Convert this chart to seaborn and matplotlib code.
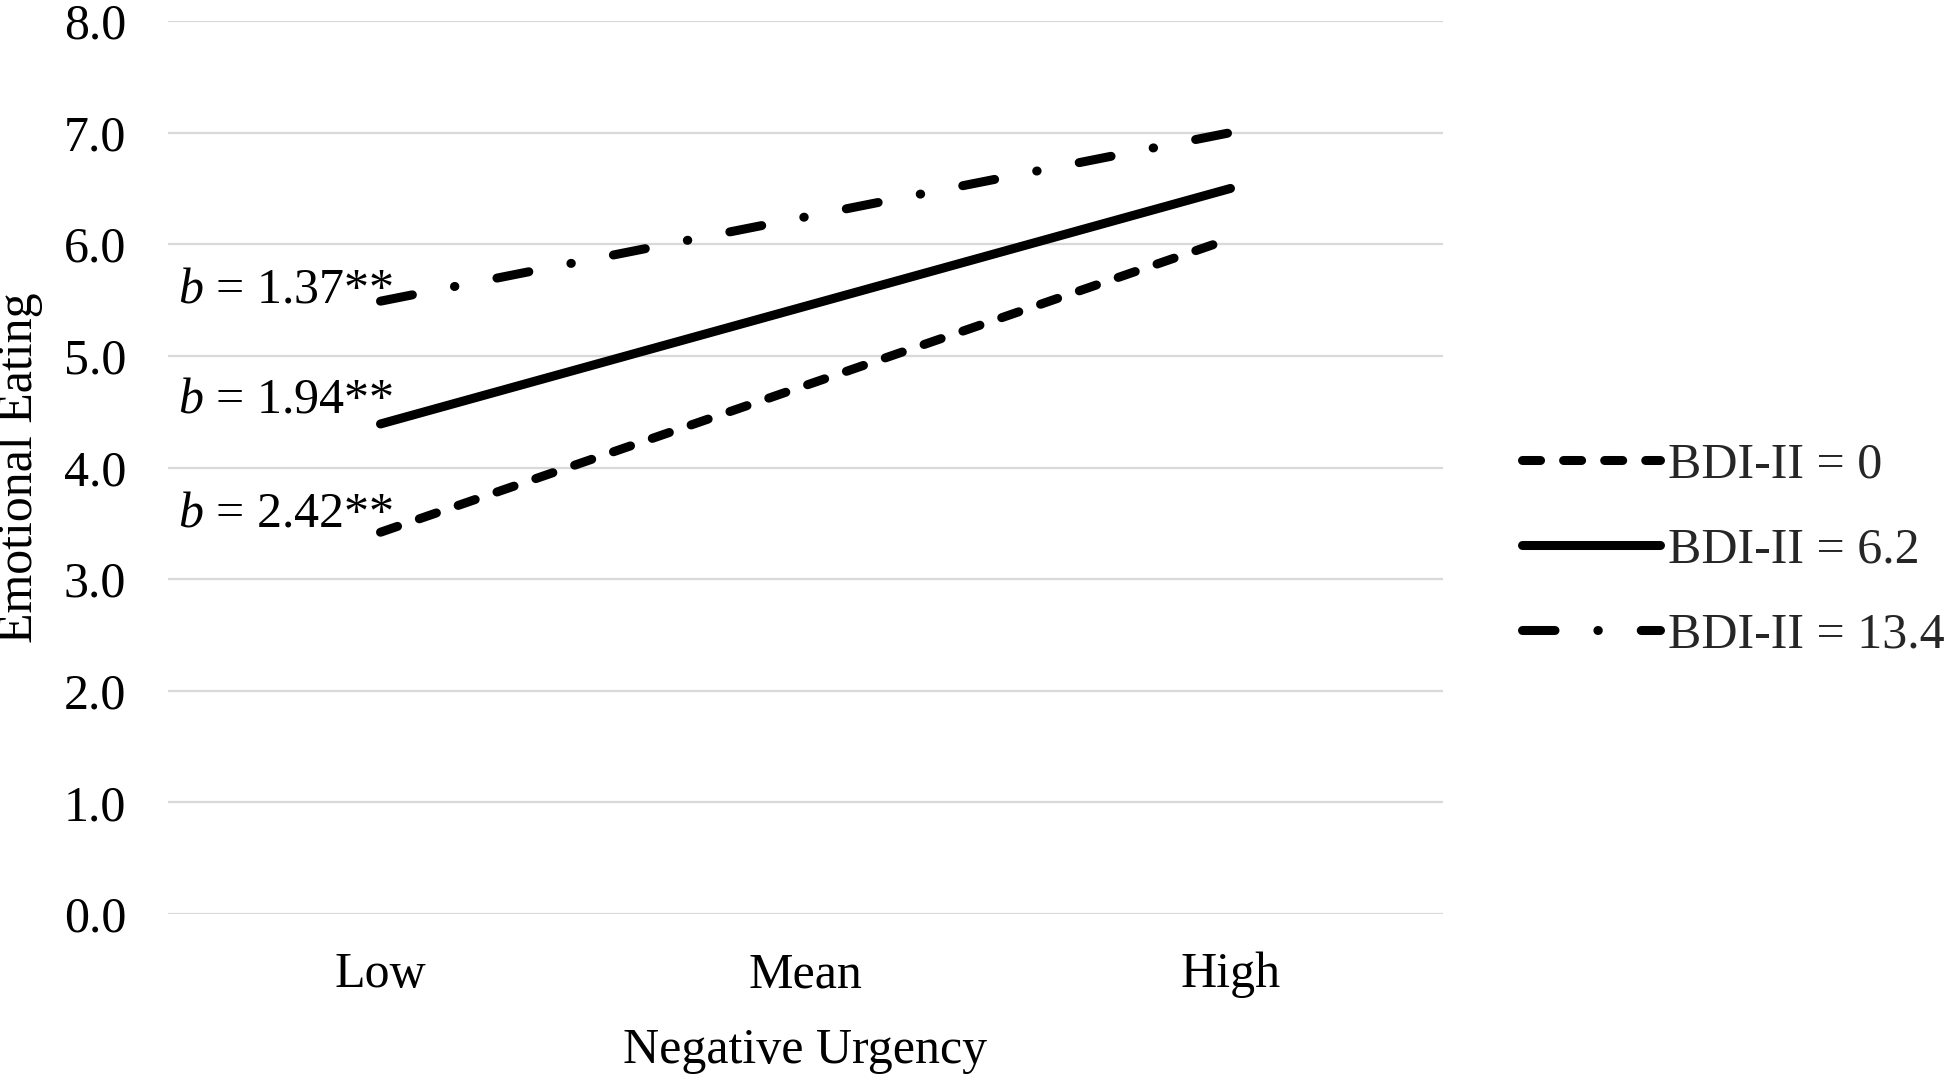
import matplotlib
matplotlib.use("Agg")
import matplotlib.pyplot as plt
import seaborn as sns
import pandas as pd

# ---- data ----
categories = ["Low", "Mean", "High"]
groups = ["BDI-II = 0", "BDI-II = 6.2", "BDI-II = 13.4"]
bdi_0 = [3.42, 4.735, 6.05]
bdi_62 = [4.39, 5.445, 6.50]
bdi_134 = [5.49, 6.245, 7.00]
slope_labels = ["1.37**", "1.94**", "2.42**"]
y_ticks = [0.0, 1.0, 2.0, 3.0, 4.0, 5.0, 6.0, 7.0, 8.0]

rows = []
for g, vals in zip(groups, [bdi_0, bdi_62, bdi_134]):
    for c, v in zip(categories, vals):
        rows.append({"Negative Urgency": c, "Emotional Eating": v, "group": g})
df = pd.DataFrame(rows)

sns.set_theme(style="white")
plt.rcParams["font.family"] = ["Liberation Serif", "DejaVu Serif"]
plt.rcParams["mathtext.fontset"] = "custom"
plt.rcParams["mathtext.rm"] = "Liberation Serif"
plt.rcParams["mathtext.it"] = "Liberation Serif:italic"

FS = 36
fig = plt.figure(figsize=(19.5, 10.76), dpi=100)
ax = fig.add_axes([168 / 1950, 1 - 914 / 1076, (1443 - 168) / 1950, (914 - 21) / 1076])

dash_map = {
    "BDI-II = 0": (2.0, 2.55),
    "BDI-II = 6.2": "",
    "BDI-II = 13.4": (3.6, 4.75, 0.05, 4.75),
}
sns.lineplot(data=df, x="Negative Urgency", y="Emotional Eating", style="group",
             style_order=groups, dashes=dash_map, color="black", linewidth=6.5,
             sort=False, legend=False, ax=ax,
             dash_capstyle="round", solid_capstyle="round")

ax.set_xlim(-0.5, 2.5)
ax.set_ylim(0, 8)
ax.set_yticks(y_ticks)
ax.set_yticklabels([f"{t:.1f}" for t in y_ticks])
ax.yaxis.grid(True, color="#d9d9d9", linewidth=1.6)
ax.xaxis.grid(False)
ax.set_axisbelow(True)
for s in ax.spines.values():
    s.set_visible(False)
ax.tick_params(axis="both", length=0, labelsize=FS, colors="black")
ax.tick_params(axis="y", pad=30)
ax.tick_params(axis="x", pad=27)
ax.set_xlabel("Negative Urgency", fontsize=FS, color="black", labelpad=21)
ax.set_ylabel("Emotional Eating", fontsize=FS, color="black")
ax.yaxis.set_label_coords(-0.098, 0.5)

# slope annotations
ann_y = [5.48, 4.49, 3.47]
for lab, yy in zip(slope_labels, ann_y):
    ax.text(0.03, yy, r"$b$ = " + lab, ha="right", va="baseline", fontsize=FS, color="black")

handles = ax.get_lines()[:3]
fig.legend(handles=handles, labels=groups, loc="center left",
           bbox_to_anchor=(1522 / 1950, 1 - 550 / 1076), frameon=False,
           fontsize=FS, handlelength=2.75, handletextpad=0.18, labelspacing=0.77,
           borderpad=0, borderaxespad=0)

fig.savefig("out.png", dpi=100)
